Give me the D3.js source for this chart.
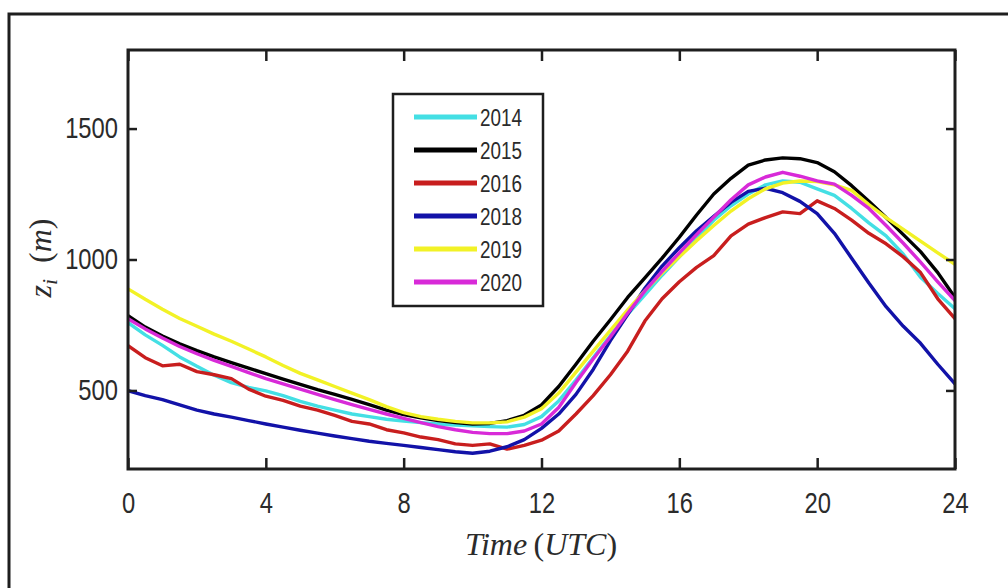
<!DOCTYPE html>
<html>
<head>
<meta charset="utf-8">
<script src="https://cdn.jsdelivr.net/npm/d3@7"></script>
<style>
  html, body { margin: 0; padding: 0; background: #fff; }
  svg { display: block; }
</style>
</head>
<body>
<svg id="chart" width="1008" height="588"></svg>
<script>
// Hour of day (UTC), half-hour steps
const hours = [0,0.5,1,1.5,2,2.5,3,3.5,4,4.5,5,5.5,6,6.5,7,7.5,8,8.5,9,9.5,10,10.5,11,11.5,
  12,12.5,13,13.5,14,14.5,15,15.5,16,16.5,17,17.5,18,18.5,19,19.5,20,20.5,21,21.5,22,22.5,23,23.5,24];

// Mean boundary-layer height z_i (m) for each year
const z2014 = [759,712,672,628,592,558,530,512,498,480,458,440,425,410,400,390,383,377,372,368,365,362,360,370,
  400,460,540,625,710,790,865,940,1010,1082,1150,1205,1250,1285,1300,1295,1270,1245,1195,1140,1090,1020,932,870,812];
const z2015 = [786,742,708,678,652,628,606,585,564,543,523,503,485,466,446,425,408,395,385,377,372,374,385,405,
  445,515,600,688,770,855,930,1005,1085,1170,1250,1310,1360,1380,1388,1385,1370,1335,1282,1222,1160,1095,1030,950,855];
const z2016 = [671,625,594,600,572,560,545,505,478,462,440,425,405,382,372,350,338,322,312,296,290,296,276,290,
  310,345,410,480,560,650,765,850,915,970,1015,1090,1135,1160,1182,1175,1224,1195,1150,1100,1060,1010,950,850,774];
const z2018 = [499,480,465,445,425,410,398,385,372,360,348,337,326,316,306,298,290,282,274,266,260,268,285,312,
  355,410,485,580,690,790,890,975,1045,1110,1165,1218,1260,1272,1255,1222,1175,1100,1005,910,820,745,680,600,525];
const z2019 = [888,848,810,775,745,715,688,658,628,595,565,540,515,490,465,438,415,400,390,382,376,376,380,398,
  430,490,570,650,730,808,880,948,1010,1072,1130,1185,1232,1270,1292,1300,1298,1285,1264,1210,1160,1115,1070,1025,982];
const z2020 = [774,735,700,668,640,615,592,568,545,525,505,485,465,446,428,410,393,377,362,350,340,335,335,345,
  372,435,530,620,705,795,880,955,1025,1095,1162,1228,1285,1315,1333,1318,1300,1288,1245,1195,1130,1062,990,915,843];

const years = ["2014", "2015", "2016", "2018", "2019", "2020"];
const seriesValues = [z2014, z2015, z2016, z2018, z2019, z2020];
const seriesColors = ["#44dfe4", "#000000", "#c81e1e", "#1212a8", "#f2f226", "#d82ad8"];

const xTicks = [0, 4, 8, 12, 16, 20, 24];
const yTicks = [500, 1000, 1500];
const xDomain = [0, 24];
const yDomain = [200, 1800];

const svg = d3.select("#chart");
const axisColor = "#1e1e1e";
const textColor = "#2b2b2b";
const narrow = 0.82; // horizontal squeeze for the condensed sans labels

// Outer figure frame (top and left edges)
svg.append("path")
  .attr("d", "M9,588 V14 H1008")
  .attr("fill", "none")
  .attr("stroke", axisColor)
  .attr("stroke-width", 3);

const x = d3.scaleLinear().domain(xDomain).range([128, 955]);
const y = d3.scaleLinear().domain(yDomain).range([469, 50]);

// Data lines, clipped to the axes box
svg.append("clipPath").attr("id", "plotclip")
  .append("rect")
  .attr("x", x(0)).attr("y", y(1800))
  .attr("width", x(24) - x(0)).attr("height", y(200) - y(1800));

const line = d3.line()
  .x((d, i) => x(hours[i]))
  .y(d => y(d));

const lines = svg.append("g").attr("clip-path", "url(#plotclip)");
seriesValues.forEach((vals, k) => {
  lines.append("path")
    .datum(vals)
    .attr("d", line)
    .attr("fill", "none")
    .attr("stroke", seriesColors[k])
    .attr("stroke-width", 3.4)
    .attr("stroke-linejoin", "round")
    .attr("stroke-linecap", "round");
});

// Axes: ticks point inward on all four sides
function styleAxis(g) {
  g.select(".domain").remove();
  g.selectAll(".tick line").attr("stroke", axisColor).attr("stroke-width", 2.5);
  g.selectAll(".tick text")
    .attr("fill", textColor)
    .style("font-family", "'Liberation Sans', Arial, sans-serif")
    .style("font-size", "29px");
}

const gBottom = svg.append("g")
  .attr("transform", `translate(0,${y(200)})`)
  .call(d3.axisBottom(x).tickValues(xTicks).tickSize(-11).tickPadding(23).tickFormat(d3.format("d")))
  .call(styleAxis);
gBottom.selectAll(".tick text").attr("transform", `scale(${narrow},1)`);

svg.append("g")
  .attr("transform", `translate(0,${y(1800)})`)
  .call(d3.axisTop(x).tickValues(xTicks).tickSize(-11).tickFormat(""))
  .call(styleAxis);

const gLeft = svg.append("g")
  .attr("transform", `translate(${x(0)},0)`)
  .call(d3.axisLeft(y).tickValues(yTicks).tickSize(-9).tickPadding(10).tickFormat(d3.format("d")))
  .call(styleAxis);
gLeft.selectAll(".tick text")
  .attr("x", -10 / narrow)
  .attr("transform", `scale(${narrow},1)`);

svg.append("g")
  .attr("transform", `translate(${x(24)},0)`)
  .call(d3.axisRight(y).tickValues(yTicks).tickSize(-9).tickFormat(""))
  .call(styleAxis);

// Axes box
svg.append("rect")
  .attr("x", x(0)).attr("y", y(1800))
  .attr("width", x(24) - x(0)).attr("height", y(200) - y(1800))
  .attr("fill", "none")
  .attr("stroke", axisColor)
  .attr("stroke-width", 3);

// Axis titles (math-italic style)
const xTitle = svg.append("text")
  .attr("x", 541).attr("y", 555)
  .attr("text-anchor", "middle")
  .attr("fill", textColor)
  .style("font-family", "'Liberation Serif', 'Times New Roman', serif")
  .style("font-size", "32px");
xTitle.append("tspan").style("font-style", "italic").text("Time\u2009");
xTitle.append("tspan").text("(");
xTitle.append("tspan").style("font-style", "italic").text("UTC");
xTitle.append("tspan").text(")");

const yTitle = svg.append("text")
  .attr("transform", "translate(51,258) rotate(-90)")
  .attr("text-anchor", "middle")
  .attr("fill", textColor)
  .style("font-family", "'Liberation Serif', 'Times New Roman', serif")
  .style("font-size", "32px");
yTitle.append("tspan").style("font-style", "italic").text("z");
yTitle.append("tspan").style("font-style", "italic").style("font-size", "22px").attr("dy", 6).text("i");
yTitle.append("tspan").attr("dy", -6).text("\u2002(");
yTitle.append("tspan").style("font-style", "italic").text("m");
yTitle.append("tspan").text(")");

// Legend
const legend = svg.append("g");
legend.append("rect")
  .attr("x", 393).attr("y", 94)
  .attr("width", 150).attr("height", 212)
  .attr("fill", "#fff")
  .attr("stroke", axisColor)
  .attr("stroke-width", 2.5);

years.forEach((yr, i) => {
  const cy = 117 + i * 33;
  legend.append("line")
    .attr("x1", 414).attr("x2", 477)
    .attr("y1", cy).attr("y2", cy)
    .attr("stroke", seriesColors[i])
    .attr("stroke-width", 5);
  legend.append("text")
    .attr("transform", `translate(480,${cy + 8.5}) scale(${narrow},1)`)
    .attr("fill", textColor)
    .style("font-family", "'Liberation Sans', Arial, sans-serif")
    .style("font-size", "23px")
    .text(yr);
});
</script>
</body>
</html>
